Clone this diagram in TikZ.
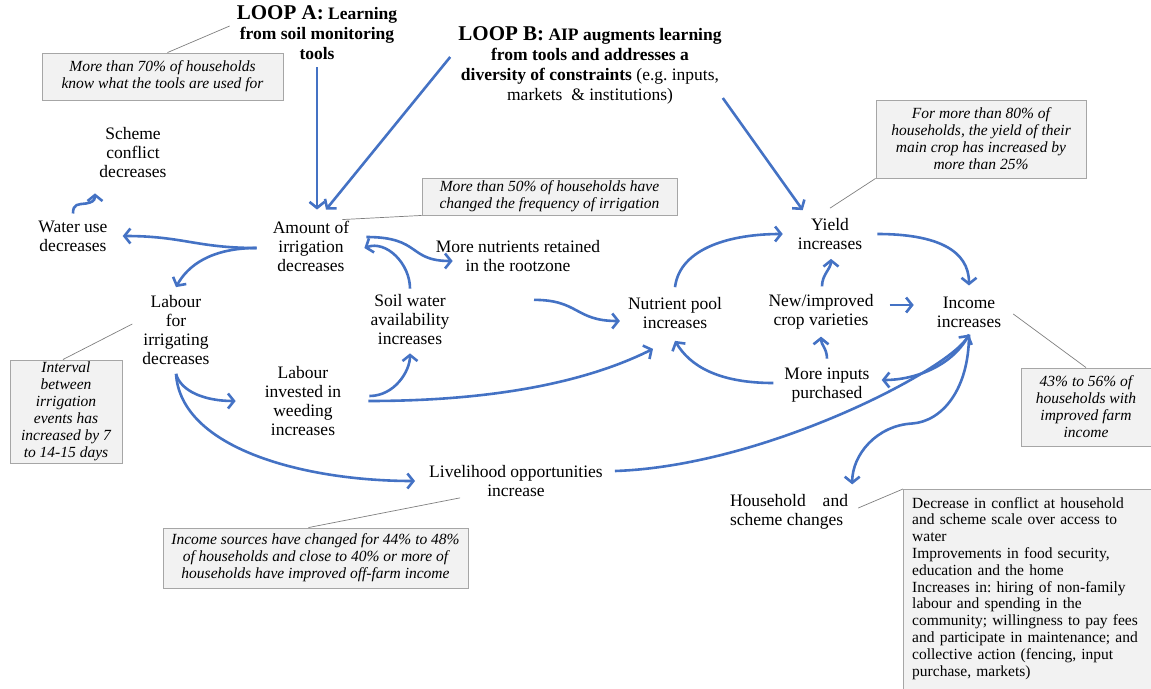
\documentclass[tikz,border=0pt]{standalone}
\usepackage{fontspec}
\setmainfont{Liberation Serif}
\frenchspacing
\usetikzlibrary{arrows.meta,backgrounds}
\definecolor{flowblue}{HTML}{4472C4}
\definecolor{notefill}{HTML}{F2F2F2}
\definecolor{noteline}{HTML}{A6A6A6}
\definecolor{leadgray}{HTML}{7F7F7F}
\begin{document}
\begin{tikzpicture}[x=1pt,y=-1pt,
  lbl/.style={align=center,inner sep=1pt,font=\fontsize{17.5}{19}\selectfont},
  looptitle/.style={align=center,inner sep=1pt,font=\fontsize{17.5}{20}\selectfont\bfseries},
  note/.style={draw=noteline,fill=notefill,line width=0.9pt,align=center,inner sep=2pt,font=\fontsize{15.5}{17}\selectfont\itshape},
  flow/.style={draw=flowblue,line width=2.6pt,-{Straight Barb[length=6pt,width=15pt]}},
  leader/.style={draw=leadgray,line width=0.7pt}]
\useasboundingbox (0,0) rectangle (1151,688);

% loops
\node[looptitle] (loopA) at (317,33) {{\fontsize{21}{20}\selectfont LOOP A:} Learning\\from soil monitoring\\tools};
\node[looptitle] (loopB) at (590,65) {{\fontsize{21}{20}\selectfont LOOP B:} AIP augments learning\\from tools and addresses a\\diversity of constraints {\mdseries (e.g. inputs,}\\{\mdseries markets \ \& institutions)}};

% factors
\node[lbl] (scheme) at (133,153) {Scheme\\conflict\\decreases};
\node[lbl] (water) at (73,236) {Water use\\decreases};
\node[lbl] (amount) at (311,246) {Amount of\\irrigation\\decreases};
\node[lbl] (nutr) at (518,256) {More nutrients retained\\in the rootzone};
\node[lbl] (labour) at (176,330) {Labour\\for\\irrigating\\decreases};
\node[lbl] (soil) at (410,320) {Soil water\\availability\\increases};
\node[lbl] (weeding) at (303,401) {Labour\\invested in\\weeding\\increases};
\node[lbl] (pool) at (675,313) {Nutrient pool\\increases};
\node[lbl] (yield) at (830,234) {Yield\\increases};
\node[lbl] (variety) at (821,312) {New/improved\\crop varieties};
\node[lbl] (income) at (969,312) {Income\\increases};
\node[lbl] (inputs) at (827,385) {More inputs\\purchased};
\node[lbl] (liveli) at (516,481) {Livelihood opportunities\\increase};
\node[lbl,align=left] (household) at (789,512) {\makebox[118pt][s]{Household and}\\scheme changes};

% evidence boxes
\node[note,minimum width=241pt,minimum height=47pt] (note70) at (162.5,76.5) {More than 70\% of households\\know what the tools are used for};
\node[note,minimum width=255pt,minimum height=37pt] (note50) at (549.5,196.5) {More than 50\% of households have\\changed the frequency of irrigation};
\node[note,minimum width=210pt,minimum height=78pt] (note80) at (981,139) {For more than 80\% of\\households, the yield of their\\main crop has increased by\\more than 25\%};
\node[note,minimum width=112pt,minimum height=103pt] (noteint) at (66,411.5) {Interval\\between\\irrigation\\events has\\increased by 7\\to 14-15 days};
\node[note,minimum width=130pt,minimum height=78pt] (note43) at (1086,407) {43\% to 56\% of\\households with\\improved farm\\income};
\node[note,minimum width=305pt,minimum height=60pt] (noteinc) at (315.5,558) {Income sources have changed for 44\% to 48\%\\of households and close to 40\% or more of\\households have improved off-farm income};
\node[font=\fontsize{15.5}{16.8}\selectfont,align=left,text width=250pt,anchor=north west,inner xsep=9pt,inner ysep=8pt] (effects) at (903,489) {Decrease in conflict at household\\and scheme scale over access to\\water\\Improvements in food security,\\education and the home\\Increases in: hiring of non-family\\labour and spending in the\\community; willingness to pay fees\\and participate in maintenance; and\\collective action (fencing, input\\purchase, markets)};
\begin{scope}[on background layer]
\draw[draw=noteline,fill=notefill,line width=0.9pt] (effects.north west) rectangle ++(270,220);
\end{scope}

% leaders
\draw[leader] ([xshift=5pt]note70.north) -- ([xshift=-6pt,yshift=7pt]loopA.west);
\draw[leader] (note50.south west) -- ([xshift=-8pt]amount.north east);
\draw[leader] (note80.south west) -- ([yshift=9pt]yield.north);
\draw[leader] ([xshift=-3pt]noteint.north) -- ([xshift=-9pt,yshift=6pt]labour.west);
\draw[leader] (note43.north) -- ([xshift=11pt,yshift=-2pt]income.east);
\draw[leader] ([xshift=-7pt]noteinc.north) -- ([xshift=32pt]liveli.south west);
\draw[leader] (effects.north west) -- ([xshift=9pt,yshift=4pt]household.east);

% links
\draw[flow,shorten <=6pt,shorten >=10pt] (loopA.south) -- (loopA.south |- amount.north);
\draw[flow] ([xshift=-7pt,yshift=8pt]loopB.west) -- ([xshift=15pt,yshift=10pt]amount.north);
\draw[flow] ([yshift=7pt]loopB.south east) -- ([xshift=6pt,yshift=7pt]yield.north west);
\draw[flow] ([xshift=-15pt,yshift=-2pt]amount.west) .. controls +(-60,0) and +(60,0) .. ([xshift=14pt]water.east);
\draw[flow] ([xshift=-15pt,yshift=-2pt]amount.west) .. controls +(-45,0) and +(12,-22) .. ([yshift=7pt]labour.north);
\draw[flow] ([yshift=6pt]water.north) .. controls +(0,-10) and +(-8,1) .. ++(13,-10) .. controls +(5,-1) and +(0,8) .. ([xshift=-38pt,yshift=-14pt]scheme.south);
\draw[flow] ([xshift=16pt,yshift=9pt]amount.east) .. controls +(55,0) and +(-45,0) .. ([xshift=18pt,yshift=-5pt]nutr.west);
\draw[flow] ([yshift=5pt]soil.north) .. controls +(0,-25) and +(22,-8) .. ([xshift=14pt,yshift=-2pt]amount.east);
\draw[flow] ([xshift=16pt,yshift=-27pt]nutr.south) .. controls +(45,0) and +(-45,0) .. ([xshift=-7pt,yshift=-8pt]pool.west);
\draw[flow] ([yshift=-8pt]labour.south) .. controls +(5,18) and +(-30,0) .. ([xshift=-28pt]weeding.west);
\draw[flow] ([yshift=-8pt]labour.south) .. controls +(5,75) and +(-110,0) .. ([xshift=-13pt]liveli.west);
\draw[flow] ([xshift=27pt,yshift=5pt]weeding.east) .. controls +(25,0) and +(0,18) .. ([yshift=-7pt]soil.south);
\draw[flow] ([xshift=26pt]weeding.east) .. controls +(150,0) and +(-50,25) .. ([xshift=-22pt,yshift=-19pt]pool.south);
\draw[flow] ([yshift=9pt]pool.north) .. controls +(5,-40) and +(-50,0) .. ([xshift=-14pt]yield.west);
\draw[flow] ([xshift=14pt]yield.east) .. controls +(60,0) and +(0,-35) .. ([yshift=10pt]income.north);
\draw[flow] ([xshift=15pt,yshift=7pt]variety.east) -- ([xshift=-22pt,yshift=7pt]income.west);
\draw[flow] ([xshift=1pt,yshift=7pt]variety.north) .. controls +(0,-12) and +(0,10) .. ([xshift=1pt,yshift=-8pt]yield.south);
\draw[flow] ([yshift=8pt]inputs.north) .. controls +(0,-10) and +(0,8) .. ([yshift=-6pt]variety.south);
\draw[flow] ([xshift=-10pt,yshift=2pt]inputs.west) .. controls +(-55,0) and +(15,25) .. ([yshift=-11pt]pool.south);
\draw[flow] ([yshift=-6pt]income.south) .. controls +(-15,30) and +(35,0) .. ([xshift=11pt,yshift=5pt]inputs.east);
\draw[flow] ([xshift=11pt,yshift=10pt]liveli.east) .. controls +(150,-5) and +(-20,35) .. ([yshift=-6pt]income.south);
\draw[flow] ([yshift=-6pt]income.south) .. controls +(0,55) and +(30,-2) .. ++(-57,89) .. controls +(-35,2) and +(0,-30) .. ([xshift=3pt,yshift=9pt]household.north east);
\end{tikzpicture}
\end{document}
